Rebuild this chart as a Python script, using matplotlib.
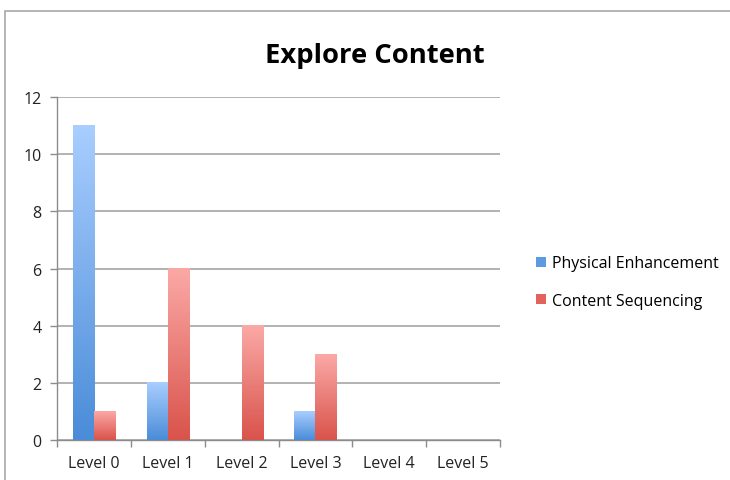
import matplotlib
matplotlib.use("Agg")
import matplotlib.pyplot as plt
import numpy as np
from matplotlib.patches import Rectangle
from matplotlib.colors import LinearSegmentedColormap

categories = ["Level 0", "Level 1", "Level 2", "Level 3", "Level 4", "Level 5"]
physical = [11, 2, 0, 1, 0, 0]
content = [1, 6, 4, 3, 0, 0]
series_names = ["Physical Enhancement", "Content Sequencing"]
y_ticks = [0, 2, 4, 6, 8, 10, 12]

plt.rcParams['font.family'] = ['Open Sans', 'DejaVu Sans']

fig = plt.figure(figsize=(7.3, 4.81), dpi=100)
ax = fig.add_axes([57/730, 1-441/481, (500-57)/730, (441-98)/481])

# outer border
fig.add_artist(Rectangle((5/730, -0.1), 1.2, (1-12/481)+0.1, transform=fig.transFigure,
                         fill=False, edgecolor='#a8a8a8', linewidth=1.2))

x = np.arange(len(categories))
w = 0.285
blue_cmap = LinearSegmentedColormap.from_list('b', ['#4a8cd8', '#a9ceff'])
red_cmap = LinearSegmentedColormap.from_list('r', ['#d9534b', '#fba9a6'])

b1 = ax.bar(x - w/2, physical, w, color='none', label=series_names[0])
b2 = ax.bar(x + w/2, content, w, color='none', label=series_names[1])
grad = np.linspace(0, 1, 256).reshape(-1, 1)
for bars, cmap in ((b1, blue_cmap), (b2, red_cmap)):
    for r in bars:
        h = r.get_height()
        if h <= 0:
            continue
        x0 = r.get_x()
        ax.imshow(grad, cmap=cmap, origin='lower', aspect='auto',
                  extent=(x0, x0 + r.get_width(), 0, h), zorder=3)

ax.set_xlim(-0.5, len(categories) - 0.5)
ax.set_ylim(0, 12)
ax.set_yticks(y_ticks)
ax.set_xticks(x)
ax.set_xticklabels(categories)
ax.set_xticks(np.arange(-0.5, len(categories), 1), minor=True)
ax.tick_params(axis='x', which='major', length=0, pad=11, labelsize=11.5, colors='#222222')
ax.tick_params(axis='x', which='minor', length=5, color='#8c8c8c', width=1)
ax.tick_params(axis='y', length=5, color='#8c8c8c', width=1, labelsize=11.5, labelcolor='#222222', pad=6)
ax.yaxis.grid(True, color='#a6a6a6', linewidth=1.2)
ax.set_axisbelow(True)
for s in ['top', 'right']:
    ax.spines[s].set_visible(False)
for s in ['left', 'bottom']:
    ax.spines[s].set_color('#8c8c8c')
    ax.spines[s].set_linewidth(1)

fig.text(375/730, 1-56/481, "Explore Content", ha='center', va='center',
         fontsize=19.7, fontweight='bold', family=['Open Sans', 'DejaVu Sans'])

handles = [Rectangle((0, 0), 1, 1, facecolor='#5d9ae0'), Rectangle((0, 0), 1, 1, facecolor='#e2625c')]
fig.legend(handles, series_names, loc='center left', bbox_to_anchor=(522/730, 1-283/481),
           frameon=False, fontsize=11.5, handlelength=0.6, handleheight=0.6,
           handletextpad=0.4, labelspacing=1.35)

fig.savefig("out.png", dpi=100)
